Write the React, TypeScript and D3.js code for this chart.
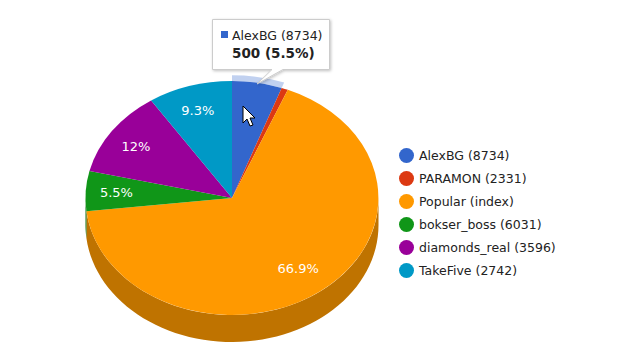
import React from "react";
import * as d3 from "d3";

const names = ["AlexBG (8734)", "PARAMON (2331)", "Popular (index)", "bokser_boss (6031)", "diamonds_real (3596)", "TakeFive (2742)"];
const values = [500, 65, 6085, 500, 1091, 845];
const sliceLabels = ["", "", "66.9%", "5.5%", "12%", "9.3%"];
const colors = ["#3366cc", "#dc3912", "#ff9900", "#109618", "#990099", "#0099c6"];
const wallColors = ["#264d99", "#a52b0e", "#bf7300", "#0c7112", "#730073", "#007395"];
const labelRadiiX = [0.8, 0.8, 0.75, 0.79, 0.8, 0.81];
const labelRadiiY = [0.8, 0.8, 0.75, 0.79, 0.77, 0.78];
const tooltipName = "AlexBG (8734)";
const tooltipValue = "500 (5.5%)";

const FONT = "'DejaVu Sans', Verdana, sans-serif";
const cx = 232, cy = 198, rx = 146.5, ry = 117, depth = 27;

const pieGen = d3.pie<number>().sort(null).value((d) => d);
const arcs = pieGen(values);
const px = (a: number, k = 1) => cx + rx * k * Math.sin(a);
const py = (a: number, k = 1) => cy - ry * k * Math.cos(a);
const sector = (a0: number, a1: number, k0 = 0, k1 = 1) =>
  d3.arc()({ innerRadius: k0, outerRadius: k1, startAngle: a0, endAngle: a1 }) as string;
const wallLine = d3.line<[number, number]>();
function wall(a0: number, a1: number) {
  const lo = Math.max(a0, Math.PI / 2), hi = Math.min(a1, (3 * Math.PI) / 2);
  if (lo >= hi) return null;
  const angles = d3.range(0, 61).map((i) => lo + ((hi - lo) * i) / 60);
  const top = angles.map((a) => [px(a), py(a)] as [number, number]);
  const bot = angles.slice().reverse().map((a) => [px(a), py(a) + depth] as [number, number]);
  return wallLine([...top, ...bot]) + "Z";
}
const legendY = d3.scalePoint<string>().domain(names).range([155.5, 270.5]);

export default function App() {
  const first = arcs[0];
  return (
    <svg width={622} height={356} style={{ position: "absolute", left: 0, top: 0, display: "block", background: "#fff" }} fontFamily={FONT}>
      <defs>
        <filter id="shadow" x="-10%" y="-10%" width="125%" height="130%">
          <feDropShadow dx="1" dy="1" stdDeviation="1.5" floodColor="#000" floodOpacity="0.25" />
        </filter>
      </defs>
      {arcs.map((a, i) => {
        const d = wall(a.startAngle, a.endAngle);
        return d ? <path key={i} d={d} fill={wallColors[i]} /> : null;
      })}
      <g transform={`translate(${cx},${cy}) scale(${rx},${ry})`}>
        {arcs.map((a, i) => (
          <path key={i} d={sector(a.startAngle, a.endAngle)} fill={colors[i]} />
        ))}
        <path d={sector(first.startAngle, first.endAngle, 1, 1.05)} fill={colors[0]} fillOpacity={0.3} />
      </g>
      {arcs.map((a, i) => {
        const m = (a.startAngle + a.endAngle) / 2;
        return sliceLabels[i] ? (
          <text key={i} x={px(m, labelRadiiX[i])} y={py(m, labelRadiiY[i]) + 4.5} textAnchor="middle" fontSize={13} fill="#fff">
            {sliceLabels[i]}
          </text>
        ) : null;
      })}
      <g>
        {names.map((n, i) => (
          <g key={n}>
            <circle cx={406.5} cy={legendY(n)} r={7.5} fill={colors[i]} />
            <text x={419} y={(legendY(n) as number) + 4.5} fontSize={12.5} fill="#222">{n}</text>
          </g>
        ))}
      </g>
      <path
        d="M212.5,19.5H329.5V69.5H283L257,84L272,69.5H212.5Z"
        fill="#fff"
        stroke="#ccc"
        filter="url(#shadow)"
      />
      <rect x={221} y={31} width={7} height={7} fill={colors[0]} />
      <text x={232} y={39.5} fontSize={12.5} fill="#222">{tooltipName}</text>
      <text x={232} y={58} fontSize={13.5} fontWeight="bold" fill="#222">{tooltipValue}</text>
      <path
        d="M243,106V123L247,119L250,126L253,125L250,118L255,118Z"
        fill="#fff"
        stroke="#000"
        strokeWidth={1}
      />
    </svg>
  );
}
